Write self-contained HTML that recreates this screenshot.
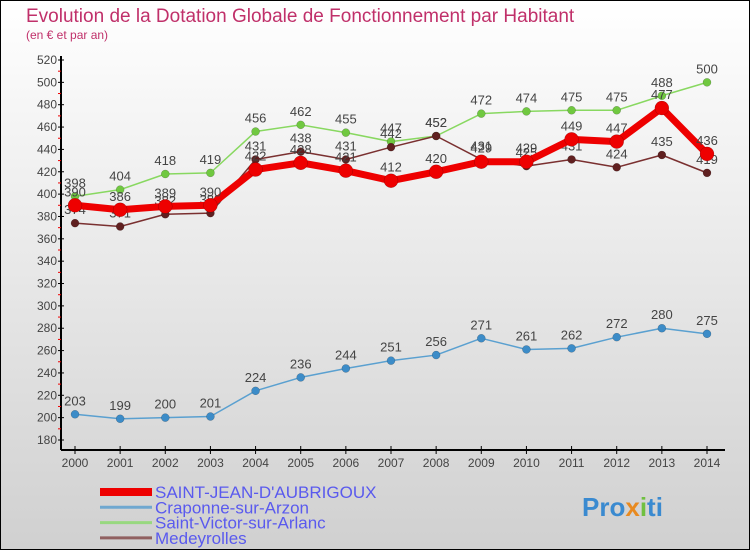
<!DOCTYPE html>
<html><head><meta charset="utf-8"><style>
body{margin:0;width:750px;height:550px;overflow:hidden}
svg{display:block;font-family:"Liberation Sans","DejaVu Sans",sans-serif}
</style></head><body>
<svg id="chart" width="750" height="550">
<defs><linearGradient id="bg" x1="0" y1="0" x2="0" y2="1"><stop offset="0" stop-color="#ffffff"/><stop offset="1" stop-color="#d0d0d0"/></linearGradient></defs>
<rect x="0.5" y="0.5" width="749" height="549" fill="url(#bg)" stroke="#000"/>
<text x="26" y="22" font-size="19" fill="#c0306a">Evolution de la Dotation Globale de Fonctionnement par Habitant</text>
<text x="26" y="39" font-size="12" fill="#c0306a">(en € et par an)</text>
<g id="axes"></g><g id="series"></g><g id="legend"></g>
</svg>
<script>
const years=[2000,2001,2002,2003,2004,2005,2006,2007,2008,2009,2010,2011,2012,2013,2014];
const yTicks=[180,200,220,240,260,280,300,320,340,360,380,400,420,440,460,480,500,520];
const stJean=[390,386,389,390,422,428,421,412,420,429,429,449,447,477,436];
const craponne=[203,199,200,201,224,236,244,251,256,271,261,262,272,280,275];
const stVictor=[398,404,418,419,456,462,455,447,452,472,474,475,475,488,500];
const medeyrolles=[374,371,382,383,431,438,431,442,452,431,425,431,424,435,419];
const names=["SAINT-JEAN-D'AUBRIGOUX","Craponne-sur-Arzon","Saint-Victor-sur-Arlanc","Medeyrolles"];
const NS="http://www.w3.org/2000/svg";
const X=i=>75+i*(707-75)/14;
const Y=v=>440-(v-180)*380/340;
function mk(t,a,p){const e=document.createElementNS(NS,t);for(const k in a)e.setAttribute(k,a[k]);p.appendChild(e);return e;}
const ax=document.getElementById('axes');
let e=mk('line',{x1:61,y1:56,x2:61,y2:450,stroke:'#000','stroke-width':2},ax);


e=mk('line',{x1:61,y1:450,x2:725,y2:450,stroke:'#000','stroke-width':2},ax);


yTicks.forEach((v,i)=>{
 mk('line',{x1:58,x2:64,y1:Y(v),y2:Y(v),stroke:'#000'},ax);
 if(i<yTicks.length-1)mk('line',{x1:58,x2:61,y1:Y(v+10),y2:Y(v+10),stroke:'#e00'},ax);
 const t=mk('text',{x:57,y:Y(v)+4,'text-anchor':'end','font-size':12,fill:'#444'},ax);t.textContent=v;
 
 
});
years.forEach((y,i)=>{
 mk('line',{x1:X(i),x2:X(i),y1:446,y2:454,stroke:'#000'},ax);
 const t=mk('text',{x:X(i),y:467,'text-anchor':'middle','font-size':12,fill:'#444'},ax);t.textContent=y;
 
 
});
const sg=document.getElementById('series');
function series(data,col,w,r,name,dot){
 const g=mk('g',{},sg);
 
 
 mk('polyline',{points:data.map((v,i)=>X(i)+','+Y(v)).join(' '),fill:'none',stroke:col,'stroke-width':w,'stroke-linejoin':'round'},g);
 data.forEach((v,i)=>{
  const c=mk('circle',{cx:X(i),cy:Y(v),r:r,fill:dot,stroke:'rgba(0,0,0,0.3)','stroke-width':0.5},g);
  
  
  const t=mk('text',{x:X(i),y:Y(v)-9,'text-anchor':'middle','font-size':13,fill:'#444'},g);t.textContent=v;
  
  
 });
}
series(craponne,'#5aa0d0',1.5,4,'series-craponne','#3c8cc8');
series(stVictor,'#88d860',1.5,4,'series-saint-victor','#70c840');
series(medeyrolles,'#7a3030',1.5,4,'series-medeyrolles','#602020');
series(stJean,'#ee0000',7,7,'series-saint-jean','#ee0000');
const lg=document.getElementById('legend');
const lc=['#ee0000','#70a8d0','#98d880','#906060'],lw=[8,3,3,3];
names.forEach((n,i)=>{
 const y=492+i*15.3;
 const g=mk('g',{},lg);
 
 
 mk('line',{x1:100,x2:152,y1:y,y2:y,stroke:lc[i],'stroke-width':lw[i]},g);
 const t=mk('text',{x:155,y:y+6,'font-size':17,fill:'#5a5aee'},g);t.textContent=n;
});
const p=mk('text',{x:582,y:516,'font-size':26,'font-weight':'bold',fill:'#3a8ad0'},lg);
p.innerHTML='Pro<tspan fill="#e88a20">x</tspan><tspan fill="#70c040">i</tspan>ti';


</script>
</body></html>
